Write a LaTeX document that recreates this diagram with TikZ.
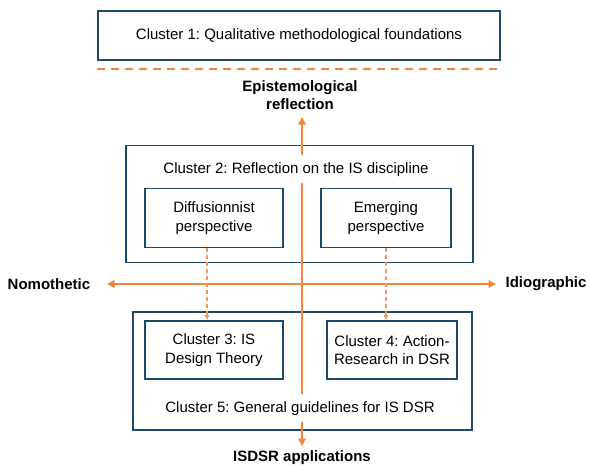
\documentclass[tikz,border=0pt]{standalone}
\usepackage{fontspec}
\setmainfont{Liberation Sans}
\usetikzlibrary{arrows.meta}
\definecolor{clusterblue}{HTML}{1D4A68}
\definecolor{axisorange}{HTML}{F5843C}
\frenchspacing

\begin{document}
\begin{tikzpicture}[x=1pt,y=-1pt,
  box/.style={draw=clusterblue,line width=1.8pt,fill=white,align=center,inner sep=0pt,font=\fontsize{15}{18.5}\selectfont},
  heading/.style={fill=white,inner xsep=2pt,inner ysep=7pt,text height=11pt,text depth=3pt,font=\fontsize{15}{18.5}\selectfont},
  axislabel/.style={align=center,font=\bfseries\fontsize{15}{18.5}\selectfont},
  axis/.style={draw=axisorange,line width=2.6pt,{Triangle[length=7.5pt,width=7.5pt]}-{Triangle[length=7.5pt,width=7.5pt]}},
  link/.style={draw=axisorange!85,line width=1.1pt,dash pattern=on 4pt off 3pt,-{Triangle[length=5pt,width=4.5pt]}}]
\useasboundingbox (0,0) rectangle (590,467);
\node[box,minimum width=402,minimum height=49] (c1) at (299,35.5) {Cluster 1: Qualitative methodological foundations};
\node[box,minimum width=347,minimum height=117] (c2) at (299.5,204) {};
\node[box,minimum width=339,minimum height=118] (c5) at (302.5,371) {};
\node[box,minimum width=138,minimum height=59] (diff) at (214,218) {Diffusionnist\\perspective};
\node[box,minimum width=130,minimum height=59] (emerg) at (386,218) {Emerging\\perspective};
\node[box,minimum width=138,minimum height=58] (c3) at (214,350) {Cluster 3: IS\\Design Theory};
\node[box,minimum width=130,minimum height=58] (c4) at (392,350) {Cluster 4: Action-\\Research in DSR};
\draw[axisorange,line width=2.6pt,dash pattern=on 8pt off 6pt] ([yshift=-8pt]c1.south west) -- ([yshift=-8pt]c1.south east);
\node[axislabel] (epi) at (300,95) {Epistemological\\reflection};
\node[axislabel] (isdsr) at (302,458) {ISDSR applications};
\node[axislabel] (nomo) at (49,284) {Nomothetic};
\node[axislabel] (idio) at (546,284) {Idiographic};
\coordinate (west) at (107,284);
\coordinate (east) at (496,284);
\coordinate (top) at (302,117);
\coordinate (bottom) at (302,446);
\draw[axis] (west) -- (east);
\draw[axis] (bottom) -- (top);
\draw[link] ([xshift=-7pt]diff.south) -- ([xshift=-7pt]diff.south |- c3.north);
\draw[link] (emerg.south) -- (emerg.south |- c4.north);
\node[heading] (c2title) at (296,169) {Cluster 2: Reflection on the IS discipline};
\node[heading] (c5title) at (300,408) {Cluster 5: General guidelines for IS DSR};
\end{tikzpicture}
\end{document}
